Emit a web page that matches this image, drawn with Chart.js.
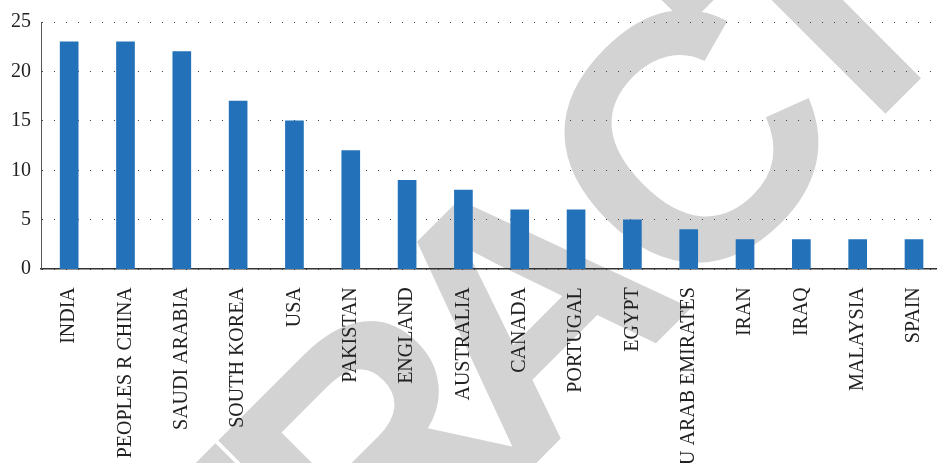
<!DOCTYPE html>
<html lang="en">
<head>
    <meta charset="UTF-8">
    <title>Countries</title>
    <script src="https://cdn.jsdelivr.net/npm/chart.js"></script>
    <style>
        body {
            margin: 0;
            padding: 0;
            background: #fff;
            overflow: hidden;
        }

        .chart-wrap {
            width: 948px;
            height: 475px;
        }
    </style>
</head>
<body>
    <div class="chart-wrap">
        <canvas id="countryChart"></canvas>
    </div>

    <script>
        const countries = ['INDIA', 'PEOPLES R CHINA', 'SAUDI ARABIA', 'SOUTH KOREA', 'USA', 'PAKISTAN',
            'ENGLAND', 'AUSTRALIA', 'CANADA', 'PORTUGAL', 'EGYPT', 'U ARAB EMIRATES', 'IRAN', 'IRAQ',
            'MALAYSIA', 'SPAIN'];
        const counts = [23, 23, 22, 17, 15, 12, 9, 8, 6, 6, 5, 4, 3, 3, 3, 3];
        const yTicks = [0, 5, 10, 15, 20, 25];

        // grey "RETRACTED" watermark, letters placed along a 45 degree baseline
        // offsets are along the baseline, measured from the centre of the "C"
        const wmLetters = ['E', 'T', 'R', 'A', 'C', 'T', 'E'];
        const wmOffsets = [-900, -680, -470, -262, -30, 155, 370];

        const watermark = {
            id: 'watermark',
            beforeDraw(chart) {
                const ctx = chart.ctx;
                const size = 350;
                ctx.save();
                ctx.fillStyle = '#d3d3d3';
                ctx.font = 'bold ' + size + 'px "Liberation Sans"';
                ctx.textAlign = 'center';
                ctx.translate(705, 117);
                ctx.rotate(-Math.PI / 4);
                wmLetters.forEach((ch, i) => {
                    ctx.fillText(ch, wmOffsets[i], size * 0.716 / 2);
                });
                ctx.restore();
            }
        };

        new Chart(document.getElementById('countryChart'), {
            type: 'bar',
            data: {
                labels: countries,
                datasets: [{
                    data: counts,
                    backgroundColor: '#2271b9',
                    barThickness: 18
                }]
            },
            plugins: [watermark],
            options: {
                responsive: true,
                maintainAspectRatio: false,
                animation: false,
                layout: { padding: { top: 7, left: 1, right: 0, bottom: 0 } },
                plugins: {
                    legend: { display: false },
                    tooltip: { enabled: false }
                },
                scales: {
                    x: {
                        grid: { display: false },
                        border: { color: '#333', width: 1.5 },
                        ticks: {
                            minRotation: 90,
                            maxRotation: 90,
                            padding: 10,
                            color: '#222',
                            font: { family: '"Liberation Serif"', size: 20 }
                        }
                    },
                    y: {
                        min: 0,
                        max: 25,
                        afterBuildTicks(axis) {
                            axis.ticks = yTicks.map(v => ({ value: v }));
                        },
                        grid: {
                            color: '#444',
                            lineWidth: 1,
                            drawTicks: false
                        },
                        border: { color: '#555', width: 1, dash: [1, 11] },
                        ticks: {
                            padding: 10,
                            color: '#222',
                            font: { family: '"Liberation Serif"', size: 20 }
                        }
                    }
                }
            }
        });
    </script>
</body>
</html>
